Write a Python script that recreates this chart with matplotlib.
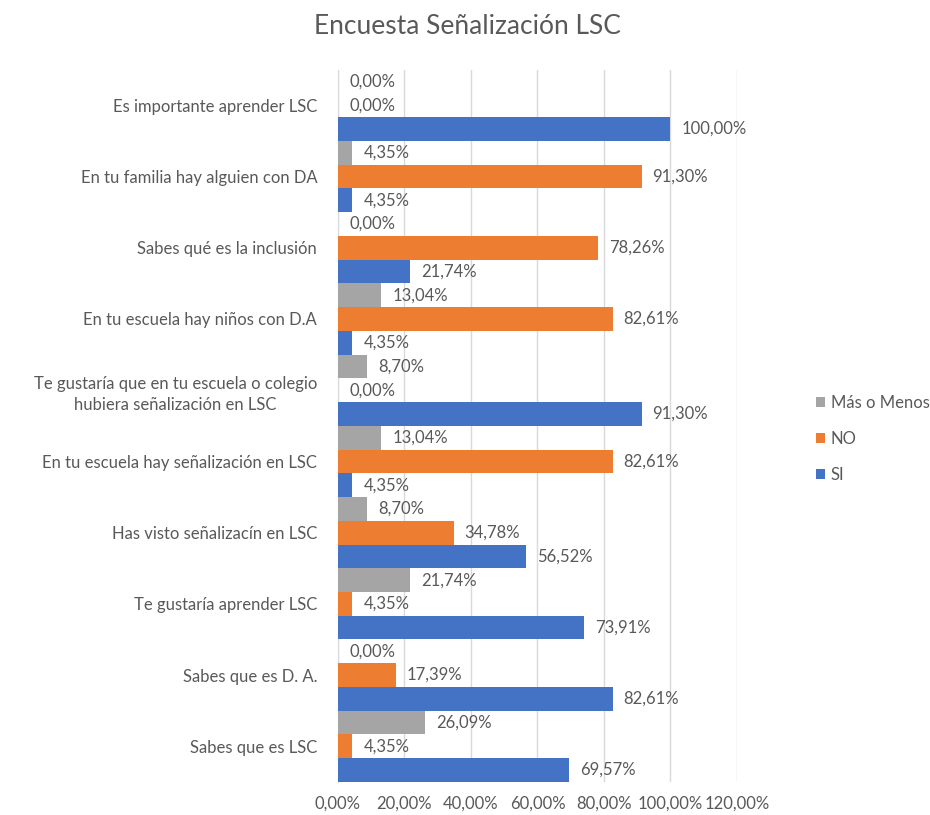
import numpy as np
import matplotlib.pyplot as plt

plt.rcParams['font.family'] = ['Lato', 'DejaVu Sans']

# ----------------------------------------- #

categories = [
    "Es importante aprender LSC",
    "En tu familia hay alguien con DA",
    "Sabes qué es la inclusión",
    "En tu escuela hay niños con D.A",
    "Te gustaría que en tu escuela o colegio\nhubiera señalización en LSC",
    "En tu escuela hay señalización en LSC",
    "Has visto señalizacín en LSC",
    "Te gustaría aprender LSC",
    "Sabes que es D. A.",
    "Sabes que es LSC",
]

mas_o_menos = [0.00, 4.35, 0.00, 13.04, 8.70, 13.04, 8.70, 21.74, 0.00, 26.09]
no_vals = [0.00, 91.30, 78.26, 82.61, 0.00, 82.61, 34.78, 4.35, 17.39, 4.35]
si_vals = [100.00, 4.35, 21.74, 4.35, 91.30, 4.35, 56.52, 73.91, 82.61, 69.57]

series_names = ["Más o Menos", "NO", "SI"]
colors = ["#A5A5A5", "#ED7D31", "#4472C4"]

x_ticks = [0, 20, 40, 60, 80, 100, 120]

# ----------------------------------------- #

txt_color = "#595959"
fig = plt.figure(figsize=(9.3, 8.15), dpi=100)
ax = fig.add_axes([0.3634, 0.0405, 0.4290, 0.8742])

y = np.arange(len(categories))
h = 1.0 / 3
offsets = [-h, 0, h]

for vals, name, col, off in zip([mas_o_menos, no_vals, si_vals], series_names, colors, offsets):
    bars = ax.barh(y + off, vals, height=h, color=col, label=name, zorder=3)
    for b, v in zip(bars, vals):
        ax.annotate(f"{v:.2f}%".replace(".", ","),
                    xy=(v, b.get_y() + b.get_height() / 2),
                    xytext=(8, 0), textcoords="offset points",
                    va="center", ha="left", fontsize=12, color=txt_color)

ax.set_xlim(0, 120)
ax.set_ylim(len(categories) - 0.5, -0.5)
ax.set_xticks(x_ticks)
ax.set_xticklabels([f"{t:.2f}%".replace(".", ",") for t in x_ticks], fontsize=12, color=txt_color)
ax.set_yticks(y)
ax.set_yticklabels(categories, fontsize=12, color=txt_color)
for lab in ax.get_yticklabels():
    lab.set_linespacing(1.45)
    lab.set_multialignment("center")
ax.tick_params(axis="both", length=0)
ax.tick_params(axis="y", pad=15)
ax.tick_params(axis="x", pad=10)

ax.grid(axis="x", color="#D9D9D9", linewidth=1, zorder=0)
for s in ["top", "right", "bottom"]:
    ax.spines[s].set_visible(False)
ax.spines["left"].set_color("#D9D9D9")

fig.text(0.503, 0.967, "Encuesta Señalización LSC", ha="center", va="center",
         fontsize=19, color=txt_color)

handles, labels = ax.get_legend_handles_labels()
fig.legend(handles, labels, loc="center left", bbox_to_anchor=(0.8688, 0.4613),
           frameon=False, fontsize=12, labelcolor=txt_color, borderpad=0,
           handlelength=0.5, handleheight=0.5, handletextpad=0.36, labelspacing=1.2)

fig.savefig("out.png", dpi=100)
